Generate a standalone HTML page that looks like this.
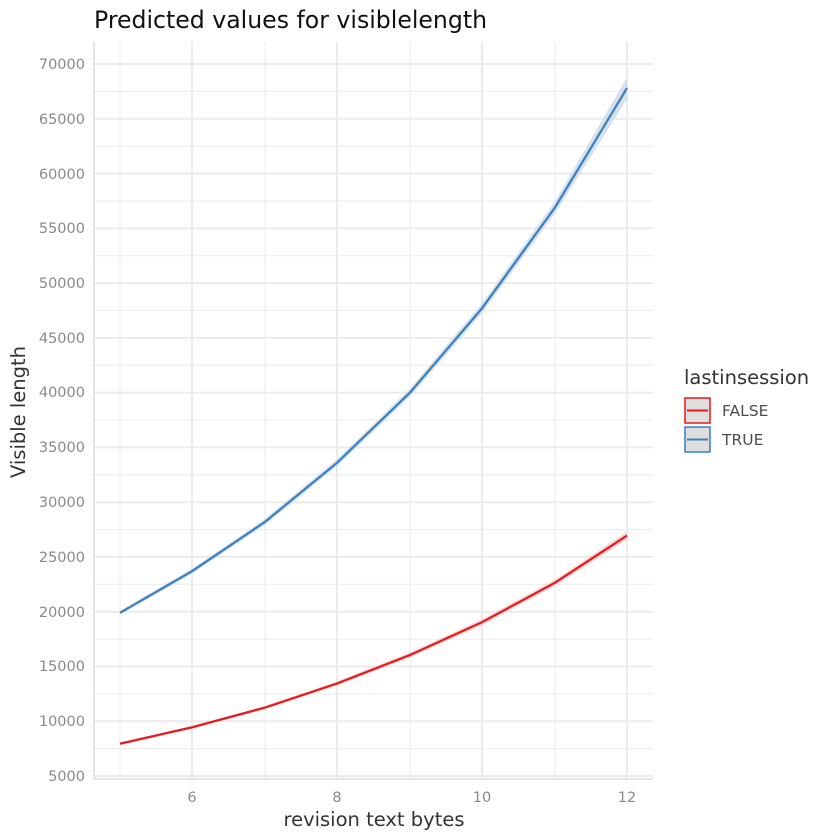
<!DOCTYPE html>
<html><head><style>body{margin:0;background:#fff}svg{display:block}</style></head><body>
<svg width="840" height="840" xmlns="http://www.w3.org/2000/svg" font-family="DejaVu Sans, Liberation Sans, sans-serif">
<rect width="840" height="840" fill="#fff"/>
<g stroke="#ebebeb" stroke-width="1">
<line x1="94" x2="653" y1="748.6" y2="748.6"/><line x1="94" x2="653" y1="693.9" y2="693.9"/><line x1="94" x2="653" y1="639.1" y2="639.1"/><line x1="94" x2="653" y1="584.3" y2="584.3"/><line x1="94" x2="653" y1="529.6" y2="529.6"/><line x1="94" x2="653" y1="474.8" y2="474.8"/><line x1="94" x2="653" y1="420" y2="420"/><line x1="94" x2="653" y1="365.3" y2="365.3"/><line x1="94" x2="653" y1="310.5" y2="310.5"/><line x1="94" x2="653" y1="255.7" y2="255.7"/><line x1="94" x2="653" y1="201" y2="201"/><line x1="94" x2="653" y1="146.2" y2="146.2"/><line x1="94" x2="653" y1="91.4" y2="91.4"/>
<line x1="120" x2="120" y1="42" y2="779"/><line x1="265" x2="265" y1="42" y2="779"/><line x1="410" x2="410" y1="42" y2="779"/><line x1="555" x2="555" y1="42" y2="779"/>
</g>
<g stroke="#ebebeb" stroke-width="2">
<line x1="94" x2="653" y1="776" y2="776"/><line x1="94" x2="653" y1="721.2" y2="721.2"/><line x1="94" x2="653" y1="666.5" y2="666.5"/><line x1="94" x2="653" y1="611.7" y2="611.7"/><line x1="94" x2="653" y1="556.9" y2="556.9"/><line x1="94" x2="653" y1="502.2" y2="502.2"/><line x1="94" x2="653" y1="447.4" y2="447.4"/><line x1="94" x2="653" y1="392.6" y2="392.6"/><line x1="94" x2="653" y1="337.9" y2="337.9"/><line x1="94" x2="653" y1="283.1" y2="283.1"/><line x1="94" x2="653" y1="228.3" y2="228.3"/><line x1="94" x2="653" y1="173.6" y2="173.6"/><line x1="94" x2="653" y1="118.8" y2="118.8"/><line x1="94" x2="653" y1="64" y2="64"/>
<line x1="192" x2="192" y1="42" y2="779"/><line x1="337" x2="337" y1="42" y2="779"/><line x1="482" x2="482" y1="42" y2="779"/><line x1="627" x2="627" y1="42" y2="779"/>
</g>
<line x1="94" x2="94" y1="42" y2="779" stroke="#dcdcdc" stroke-width="1.5"/>
<line x1="94" x2="653" y1="779" y2="779" stroke="#dcdcdc" stroke-width="1.5"/>
<polygon fill="#c6d4e4" opacity="0.7" points="120,610.8 192,568.7 265,518.9 337,459.3 410,388.6 482,303.3 555,201.5 627,77 627,99 555,213.5 482,313.3 410,396.6 337,466.3 265,524.9 192,573.7 120,614.8"/>
<polygon fill="#f2c4c4" opacity="0.7" points="120,742.2 192,725.8 265,706.1 337,681.5 410,652.5 482,619.2 555,579.7 627,531.6 627,539.6 555,585.7 482,625.2 410,657.5 337,685.5 265,709.1 192,728.8 120,745.2"/>
<polyline fill="none" stroke="#3a7fc1" stroke-width="2.2" points="120,612.8 192,571.2 265,521.9 337,462.8 410,392.6 482,308.3 555,207.5 627,88.1"/>
<polyline fill="none" stroke="#e8191c" stroke-width="2.2" points="120,743.7 192,727.3 265,707.6 337,683.5 410,655 482,622.2 555,582.7 627,535.6"/>
<g fill="#8a8a8a" font-size="14.5" text-anchor="end">
<text x="85" y="781">5000</text><text x="85" y="726">10000</text><text x="85" y="671">15000</text><text x="85" y="617">20000</text><text x="85" y="562">25000</text><text x="85" y="507">30000</text><text x="85" y="452">35000</text><text x="85" y="397">40000</text><text x="85" y="343">45000</text><text x="85" y="288">50000</text><text x="85" y="233">55000</text><text x="85" y="179">60000</text><text x="85" y="124">65000</text><text x="85" y="69">70000</text>
</g>
<g fill="#8a8a8a" font-size="14.5" text-anchor="middle">
<text x="192" y="802">6</text><text x="337" y="802">8</text><text x="482" y="802">10</text><text x="627" y="802">12</text>
</g>
<text x="374" y="826" font-size="19.5" fill="#333" text-anchor="middle">revision text bytes</text>
<text transform="translate(25,412) rotate(-90)" font-size="19.5" fill="#333" text-anchor="middle">Visible length</text>
<text x="94" y="28" font-size="23.6" fill="#111">Predicted values for visiblelength</text>
<text x="684" y="384" font-size="19.5" fill="#333">lastinsession</text>
<rect x="685" y="398" width="25" height="25" fill="#dedede" stroke="#e8191c" stroke-width="1.5"/>
<line x1="687" x2="708" y1="410.5" y2="410.5" stroke="#e8191c" stroke-width="2"/>
<rect x="685" y="427" width="25" height="25" fill="#dedede" stroke="#3a7fc1" stroke-width="1.5"/>
<line x1="687" x2="708" y1="439.5" y2="439.5" stroke="#3a7fc1" stroke-width="2"/>
<g fill="#4d4d4d" font-size="15.5"><text x="722" y="416">FALSE</text><text x="722" y="445">TRUE</text></g>
</svg>
</body></html>
